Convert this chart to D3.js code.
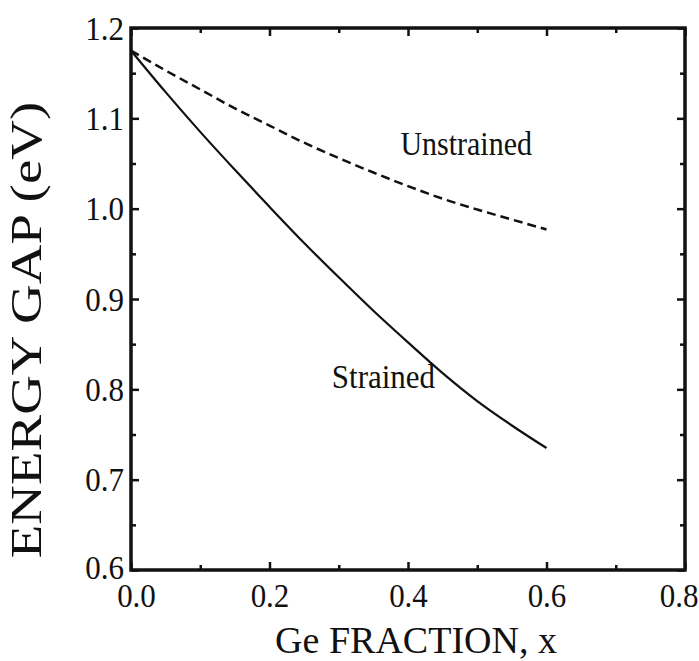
<!DOCTYPE html>
<html>
<head>
<meta charset="utf-8">
<script src="https://cdn.jsdelivr.net/npm/d3@7"></script>
<style>
  body { margin: 0; background: #fff; }
  svg text { font-family: "Liberation Serif", "DejaVu Serif", serif; fill: #111; }
</style>
</head>
<body>
<div id="chart"></div>
<script>
'use strict';

// Ge fraction (x axis)
const ge_fraction = [0, 0.05, 0.1, 0.15, 0.2, 0.25, 0.3, 0.35, 0.4, 0.45, 0.5, 0.55, 0.6]
// energy gap (eV)
const gap_unstrained = [1.175, 1.153, 1.132, 1.111, 1.092, 1.073, 1.056, 1.040, 1.025, 1.011, 0.999, 0.988, 0.977]
const gap_strained = [1.175, 1.129, 1.085, 1.043, 1.002, 0.962, 0.924, 0.887, 0.852, 0.818, 0.787, 0.760, 0.735]
const x_ticks_major = [0, 0.2, 0.4, 0.6, 0.8]
const x_ticks_minor = [0.1, 0.3, 0.5, 0.7]
const y_ticks_major = [0.6, 0.7, 0.8, 0.9, 1.0, 1.1, 1.2]
const y_ticks_minor = [0.65, 0.75, 0.85, 0.95, 1.05, 1.15]

const dimensions = {
  width: 699,
  height: 661,
  margin: { top: 28, left: 131, right: 14, bottom: 91 }
}
dimensions.ctrWidth = dimensions.width - dimensions.margin.left - dimensions.margin.right
dimensions.ctrHeight = dimensions.height - dimensions.margin.top - dimensions.margin.bottom

const svg_el = d3.select('#chart')
  .append('svg')
  .attr('width', dimensions.width)
  .attr('height', dimensions.height)

const chart_g = svg_el.append('g')
  .attr('transform', `translate(${dimensions.margin.left}, ${dimensions.margin.top})`)

const xScale = d3.scaleLinear().domain([0, 0.8]).range([0, dimensions.ctrWidth])
const yScale = d3.scaleLinear().domain([0.6, 1.2]).range([dimensions.ctrHeight, 0])

const major = 8, minor = 5

// draw one set of inward ticks, optionally with labels
function draw_axis(axisFn, scale, values, size, labels, transform) {
  const g = chart_g.append('g')
    .attr('transform', transform)
    .call(axisFn(scale)
      .tickValues(values)
      .tickSizeInner(-size)
      .tickSizeOuter(0)
      .tickFormat(labels ? d3.format('.1f') : ''))
  g.select('.domain').remove()
  g.selectAll('.tick line').attr('stroke', '#111').attr('stroke-width', 2.5)
  return g
}

// bottom (corner labels nudged apart as in the original)
const xb = draw_axis(d3.axisBottom, xScale, x_ticks_major, major, true, `translate(0,${dimensions.ctrHeight})`)
draw_axis(d3.axisBottom, xScale, x_ticks_minor, minor, false, `translate(0,${dimensions.ctrHeight})`)
xb.selectAll('.tick text')
  .attr('y', 0).attr('dy', null)
  .attr('text-anchor', (d) => d === 0.8 ? 'end' : 'middle')
  .attr('transform', (d) => {
    const dx = d === 0.8 ? 13 : (d === 0 ? 5 : 0)
    return `translate(${dx}, 37) scale(1, 1.07)`
  })
  .style('font-size', '31px')
// top
draw_axis(d3.axisTop, xScale, x_ticks_major, major, false, 'translate(0,0)')
draw_axis(d3.axisTop, xScale, x_ticks_minor, minor, false, 'translate(0,0)')
// left
const yl = draw_axis(d3.axisLeft, yScale, y_ticks_major, major, true, 'translate(0,0)')
draw_axis(d3.axisLeft, yScale, y_ticks_minor, minor, false, 'translate(0,0)')
yl.selectAll('.tick text')
  .attr('x', 0).attr('dy', null)
  .attr('transform', (d) => `translate(-7, ${d === 0.6 ? 8 : 11}) scale(1, 1.07)`)
  .style('font-size', '31px')
// right
draw_axis(d3.axisRight, yScale, y_ticks_major, major, false, `translate(${dimensions.ctrWidth},0)`)
draw_axis(d3.axisRight, yScale, y_ticks_minor, minor, false, `translate(${dimensions.ctrWidth},0)`)

// frame
chart_g.append('rect')
  .attr('width', dimensions.ctrWidth)
  .attr('height', dimensions.ctrHeight)
  .attr('fill', 'none')
  .attr('stroke', '#111')
  .attr('stroke-width', 3.5)

// curves
const line_gen = d3.line()
  .x((d) => xScale(d[0]))
  .y((d) => yScale(d[1]))
  .curve(d3.curveMonotoneX)

chart_g.append('path')
  .datum(ge_fraction.map((x, i) => [x, gap_unstrained[i]]))
  .attr('d', line_gen)
  .attr('fill', 'none')
  .attr('stroke', '#111')
  .attr('stroke-width', 2.5)
  .attr('stroke-dasharray', '9,5')

chart_g.append('path')
  .datum(ge_fraction.map((x, i) => [x, gap_strained[i]]))
  .attr('d', line_gen)
  .attr('fill', 'none')
  .attr('stroke', '#111')
  .attr('stroke-width', 2.2)

// curve labels
chart_g.append('text')
  .attr('transform', `translate(${xScale(0.389)}, ${yScale(1.059)}) scale(1, 1.12)`)
  .style('font-size', '30px')
  .text('Unstrained')

chart_g.append('text')
  .attr('transform', `translate(${xScale(0.290)}, ${yScale(0.801)}) scale(1, 1.12)`)
  .style('font-size', '31px')
  .text('Strained')

// axis titles
svg_el.append('text')
  .attr('text-anchor', 'middle')
  .attr('transform', `translate(416, 653)`)
  .style('font-size', '38px')
  .text('Ge FRACTION, x')

svg_el.append('text')
  .attr('text-anchor', 'middle')
  .attr('transform', `translate(41, 330) rotate(-90) scale(1.22, 1)`)
  .style('font-size', '45px')
  .text('ENERGY GAP (eV)')
</script>
</body>
</html>
